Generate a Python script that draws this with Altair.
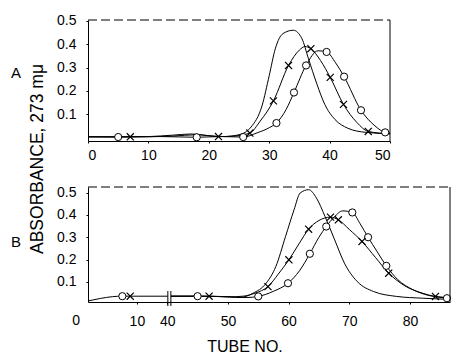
import altair as alt
import pandas as pd

FONT = "Liberation Sans"

# ---------------- Panel A data (tube number, absorbance) ----------------
a_plain_t = [0, 5, 10, 14, 17, 20, 22.5, 25, 27, 28.8, 30, 31, 32.3, 34, 35.4, 36.5, 37.9, 39.2, 40.9, 43, 46, 50]
a_plain_v = [0.003, 0.003, 0.004, 0.01, 0.015, 0.008, 0.004, 0.012, 0.045, 0.135, 0.265, 0.38, 0.446, 0.46, 0.425, 0.338, 0.229, 0.142, 0.077, 0.04, 0.022, 0.016]

a_x_t = [0, 7, 14, 18, 21.6, 24, 26.8, 28.5, 30.7, 33.2, 35, 35.9, 36.9, 38.5, 40.1, 42.3, 44.5, 46.4, 50]
a_x_v = [0.003, 0.003, 0.006, 0.012, 0.004, 0.006, 0.019, 0.07, 0.157, 0.309, 0.375, 0.39, 0.381, 0.33, 0.258, 0.142, 0.065, 0.026, 0.016]
a_x_mark_t = [7, 21.6, 26.8, 30.7, 33.2, 36.9, 40.1, 42.3, 46.4]
a_x_mark_v = [0.003, 0.004, 0.019, 0.157, 0.309, 0.381, 0.258, 0.142, 0.026]

a_o_t = [0, 5, 12, 18, 22, 25.7, 28, 30, 31.2, 32.8, 34.1, 36.1, 38.1, 39.5, 41, 42.4, 45.2, 47.5, 49.2, 50]
a_o_v = [0.003, 0.002, 0.004, 0.001, 0.004, 0.002, 0.02, 0.042, 0.062, 0.12, 0.193, 0.309, 0.372, 0.367, 0.32, 0.261, 0.117, 0.05, 0.022, 0.02]
a_o_mark_t = [5, 18, 25.7, 31.2, 34.1, 36.1, 39.5, 42.4, 45.2, 49.2]
a_o_mark_v = [0.002, 0.001, 0.002, 0.062, 0.193, 0.309, 0.367, 0.261, 0.117, 0.022]

# ---------------- Panel B data (tube number, absorbance) ----------------
b_base_t = [2, 4, 6, 7.6, 10, 15.1]
b_base_v = [0.015, 0.026, 0.034, 0.036, 0.036, 0.036]

b_plain_t = [40.6, 45, 50, 52, 54.1, 56.3, 57.9, 59.5, 60.9, 61.9, 63.3, 64.6, 66, 67.6, 69.2, 71.3, 74, 77.8, 82.1, 86.6]
b_plain_v = [0.036, 0.036, 0.034, 0.03, 0.049, 0.094, 0.169, 0.304, 0.423, 0.498, 0.513, 0.475, 0.393, 0.288, 0.184, 0.102, 0.057, 0.035, 0.027, 0.022]

b_x_t = [40.6, 46.9, 50, 52.5, 54.5, 56.6, 58.3, 60.05, 61.7, 63.3, 65, 66.9, 68.2, 70, 72.1, 74.3, 76.5, 79, 82, 84.2, 86.6]
b_x_v = [0.036, 0.036, 0.033, 0.036, 0.05, 0.079, 0.135, 0.199, 0.27, 0.336, 0.375, 0.39, 0.378, 0.335, 0.281, 0.21, 0.139, 0.085, 0.05, 0.035, 0.03]
b_x_mark_t = [8.9, 46.9, 56.6, 60.05, 63.3, 66.9, 68.2, 72.1, 76.5, 84.2]
b_x_mark_v = [0.036, 0.036, 0.079, 0.199, 0.336, 0.39, 0.378, 0.281, 0.139, 0.035]

b_o_t = [40.6, 45, 50, 53, 55, 57.5, 59.9, 61.8, 63.5, 65, 66.2, 67.5, 68.9, 70.5, 71.8, 73.1, 74.6, 76.1, 78, 80.5, 83, 86.6]
b_o_v = [0.036, 0.036, 0.033, 0.03, 0.035, 0.058, 0.094, 0.15, 0.226, 0.3, 0.348, 0.39, 0.418, 0.411, 0.36, 0.3, 0.235, 0.172, 0.11, 0.065, 0.04, 0.027]
b_o_mark_t = [7.6, 45, 55, 59.9, 63.5, 66.2, 70.5, 73.1, 76.1, 86.1]
b_o_mark_v = [0.036, 0.036, 0.035, 0.094, 0.226, 0.348, 0.411, 0.3, 0.172, 0.027]

a_ticks = [0, 10, 20, 30, 40, 50]
b_ticks = [0, 10, 40, 50, 60, 70, 80]
y_ticks = [0.1, 0.2, 0.3, 0.4, 0.5]
break_tubes = [15.1, 40.6]   # the two bars of the broken axis in panel B


def to_u(t):
    """Broken-axis position for panel B: tubes 15..40 are cut out."""
    return t if t < 30 else t - 25


def series(ts, vs, name):
    return pd.DataFrame({"tube": ts, "val": vs, "series": name})


# ---------------- Panel A ----------------
WA, HA = 302, 121
lines_a = pd.concat([series(a_plain_t, a_plain_v, "plain"),
                     series(a_x_t, a_x_v, "x"),
                     series(a_o_t, a_o_v, "o")])
xa = alt.X("tube:Q", scale=alt.Scale(domain=[0, 50], nice=False, zero=False),
           axis=alt.Axis(values=a_ticks, tickCount=40, format="d", title=None, labelPadding=5))
ya = alt.Y("val:Q", scale=alt.Scale(domain=[-0.015, 0.504], nice=False, zero=False),
           axis=alt.Axis(values=y_ticks, tickCount=40, format=".1f", title=None, labelPadding=10))

la = alt.Chart(lines_a).mark_line(color="black", strokeWidth=1, interpolate="monotone").encode(
    x=xa, y=ya, detail="series:N")
oa = alt.Chart(series(a_o_mark_t, a_o_mark_v, "o")).mark_point(
    shape="circle", size=52, filled=True, fill="white", stroke="black", strokeWidth=1, opacity=1
).encode(x="tube:Q", y="val:Q")
xa_m = alt.Chart(series(a_x_mark_t, a_x_mark_v, "x")).mark_point(
    shape="M-1,-1L1,1M-1,1L1,-1", size=50, filled=False, stroke="black", strokeWidth=1.2, opacity=1
).encode(x="tube:Q", y="val:Q")
top_a = alt.Chart().mark_rule(color="black", strokeWidth=1, strokeDash=[9, 4]).encode(
    x=alt.value(0), x2=alt.value(WA), y=alt.value(0))
right_a = alt.Chart().mark_rule(color="black", strokeWidth=1).encode(
    x=alt.value(WA), y=alt.value(0), y2=alt.value(HA))
lab_a = alt.Chart().mark_text(text="A", font=FONT, fontSize=15, color="black").encode(
    x=alt.value(-72), y=alt.value(53))
ytitle = alt.Chart().mark_text(text="ABSORBANCE, 273 mμ", font=FONT, fontSize=17.5, angle=270,
                               color="black").encode(x=alt.value(-50), y=alt.value(139))

panel_a = alt.layer(la, oa, xa_m, top_a, right_a, lab_a, ytitle).properties(width=WA, height=HA)

# ---------------- Panel B ----------------
WB, HB = 362, 115
lines_b = pd.concat([series(b_base_t, b_base_v, "base"),
                     series(b_plain_t, b_plain_v, "plain"),
                     series(b_x_t, b_x_v, "x"),
                     series(b_o_t, b_o_v, "o")])
lines_b["u"] = lines_b["tube"].map(to_u)
mo_b = series(b_o_mark_t, b_o_mark_v, "o")
mo_b["u"] = mo_b["tube"].map(to_u)
mx_b = series(b_x_mark_t, b_x_mark_v, "x")
mx_b["u"] = mx_b["tube"].map(to_u)
brk = pd.DataFrame({"tube": break_tubes})
brk["u"] = brk["tube"].map(to_u)
zero_lab = pd.DataFrame({"tube": [b_ticks[0]], "lab": [str(b_ticks[0])]})
zero_lab["u"] = zero_lab["tube"].map(to_u)

xb = alt.X("u:Q", scale=alt.Scale(domain=[1.94, 61.6], nice=False, zero=False),
           axis=alt.Axis(values=[to_u(t) for t in b_ticks[1:]], tickCount=40, title=None,
                         labelPadding=10,
                         labelExpr="datum.value <= 10 ? datum.value : datum.value + 25"))
yb = alt.Y("val:Q", scale=alt.Scale(domain=[0.01, 0.525], nice=False, zero=False),
           axis=alt.Axis(values=y_ticks, tickCount=40, format=".1f", title=None, labelPadding=10))

lb = alt.Chart(lines_b).mark_line(color="black", strokeWidth=1, interpolate="monotone").encode(
    x=xb, y=yb, detail="series:N")
ob = alt.Chart(mo_b).mark_point(
    shape="circle", size=52, filled=True, fill="white", stroke="black", strokeWidth=1, opacity=1
).encode(x="u:Q", y="val:Q")
xb_m = alt.Chart(mx_b).mark_point(
    shape="M-1,-1L1,1M-1,1L1,-1", size=50, filled=False, stroke="black", strokeWidth=1.2, opacity=1
).encode(x="u:Q", y="val:Q")
bars = alt.Chart(brk).mark_rule(color="black", strokeWidth=1).encode(
    x="u:Q", y=alt.value(104), y2=alt.value(119))
zero_t = alt.Chart(zero_lab).mark_text(font=FONT, fontSize=14, color="black", baseline="top").encode(
    x="u:Q", y=alt.value(HB + 12), text="lab:N")
top_b = alt.Chart().mark_rule(color="black", strokeWidth=1, strokeDash=[9, 4]).encode(
    x=alt.value(0), x2=alt.value(WB), y=alt.value(0))
right_b = alt.Chart().mark_rule(color="black", strokeWidth=1).encode(
    x=alt.value(WB), y=alt.value(0), y2=alt.value(HB))
lab_b = alt.Chart().mark_text(text="B", font=FONT, fontSize=15, color="black").encode(
    x=alt.value(-72), y=alt.value(55))
xtitle = alt.Chart().mark_text(text="TUBE NO.", font=FONT, fontSize=16, color="black").encode(
    x=alt.value(157), y=alt.value(160))

panel_b = alt.layer(lb, ob, xb_m, bars, zero_t, top_b, right_b, lab_b, xtitle).properties(width=WB, height=HB)

# fixed canvas: 443 x 346 svg (fits the 459 x 362 window with its 8px margin)
chart = alt.vconcat(panel_a, panel_b, spacing=46, bounds="flush").properties(
    autosize=alt.AutoSizeParams(type="none"),
    padding={"left": 80, "top": 12, "right": 363, "bottom": 334}
).configure_view(stroke=None).configure_axis(
    grid=False, domainColor="black", domainWidth=1, tickColor="black", tickSize=2,
    labelColor="black", labelFont=FONT, labelFontSize=14, labelOverlap=False
)

chart.save("out.html", embed_options={"renderer": "svg", "actions": False})
